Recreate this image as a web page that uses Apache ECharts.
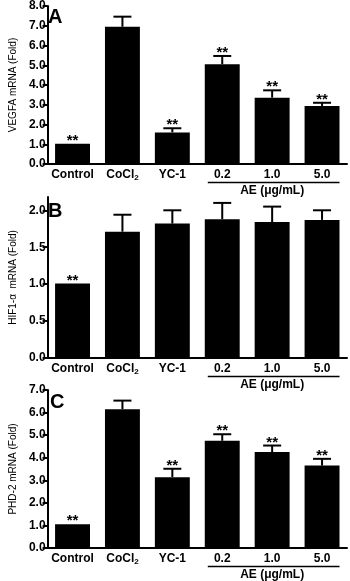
<!DOCTYPE html>
<html>
<head>
<meta charset="utf-8">
<script src="https://cdn.jsdelivr.net/npm/echarts@6/dist/echarts.min.js"></script>
<style>
  html, body { margin: 0; padding: 0; background: #fff; }
  #chart { width: 350px; height: 581px; }
</style>
</head>
<body>
<div id="chart"></div>
<script>
// categories shared by the three panels
var categories = ['Control', 'CoCl2', 'YC-1', '0.2', '1.0', '5.0'];

// A: VEGFA
var vegfaMean = [1.02, 6.95, 1.60, 5.05, 3.36, 2.94];
var vegfaSem = [0, 0.51, 0.21, 0.42, 0.37, 0.16];
var vegfaSig = [1, 0, 1, 1, 1, 1];
var vegfaTicks = [0, 1, 2, 3, 4, 5, 6, 7, 8];

// B: HIF1-a
var hifMean = [1.01, 1.71, 1.82, 1.88, 1.84, 1.87];
var hifSem = [0, 0.23, 0.18, 0.22, 0.21, 0.13];
var hifSig = [1, 0, 0, 0, 0, 0];
var hifTicks = [0, 0.5, 1, 1.5, 2];

// C: PHD-2
var phdMean = [1.05, 6.15, 3.14, 4.75, 4.25, 3.65];
var phdSem = [0, 0.38, 0.37, 0.29, 0.29, 0.30];
var phdSig = [1, 0, 1, 1, 1, 1];
var phdTicks = [0, 1, 2, 3, 4, 5, 6, 7];

var FONT = 'Arial, "Liberation Sans", sans-serif';

var panels = [
  { name: 'VEGFA mRNA (Fold)', letter: 'A', mean: vegfaMean, sem: vegfaSem, sig: vegfaSig, ticks: vegfaTicks, max: 8,
    grid: { left: 38, top: 5, width: 309, height: 159 }, letterDy: 2 },
  { name: 'HIF1-\u03b1  mRNA (Fold)', letter: 'B', mean: hifMean, sem: hifSem, sig: hifSig, ticks: hifTicks, max: 2.18,
    grid: { left: 38, top: 197, width: 309, height: 161 }, letterDy: 4 },
  { name: 'PHD-2 mRNA (Fold)', letter: 'C', mean: phdMean, sem: phdSem, sig: phdSig, ticks: phdTicks, max: 7,
    grid: { left: 40, top: 390, width: 307, height: 158 }, letterDy: 2 }
];

function errRender(params, api) {
  var x = api.value(0), m = api.value(1), s = api.value(2), sig = api.value(3);
  var base = api.coord([x, m]);
  var top = api.coord([x, m + s]);
  var kids = [];
  if (s > 0) {
    kids.push({ type: 'line', shape: { x1: base[0], y1: base[1], x2: top[0], y2: top[1] },
      style: { stroke: '#000', lineWidth: 2 } });
    kids.push({ type: 'line', shape: { x1: top[0] - 9, y1: top[1], x2: top[0] + 9, y2: top[1] },
      style: { stroke: '#000', lineWidth: 2 } });
  }
  if (sig) {
    kids.push({ type: 'text', x: top[0], y: top[1] - 3,
      style: { text: '**', fill: '#000', font: 'bold 15px ' + FONT, align: 'center', verticalAlign: 'middle' } });
  }
  return { type: 'group', children: kids };
}

var option = { animation: false, grid: [], xAxis: [], yAxis: [], series: [] };

panels.forEach(function (p, k) {
  option.grid.push(p.grid);
  option.xAxis.push({
    type: 'category', gridIndex: k, data: categories,
    axisLine: { lineStyle: { color: '#000', width: 2 } },
    axisTick: { show: false },
    axisLabel: {
      interval: 0, color: '#000', fontFamily: FONT, fontWeight: 'bold', fontSize: 12, margin: 4, lineHeight: 14,
      formatter: function (v) { return v === 'CoCl2' ? 'CoCl{s|2}' : v; },
      rich: { s: { fontFamily: FONT, fontWeight: 'bold', fontSize: 8, lineHeight: 8, verticalAlign: 'bottom', color: '#000' } }
    }
  });
  option.yAxis.push({
    type: 'value', gridIndex: k, min: 0, max: p.max,
    name: p.name, nameLocation: 'middle', nameGap: 25,
    nameTextStyle: { color: '#000', fontFamily: FONT, fontSize: 10 },
    axisLine: { show: true, lineStyle: { color: '#000', width: 2 } },
    axisTick: { show: true, length: 5, lineStyle: { color: '#000', width: 2 }, customValues: p.ticks },
    axisLabel: { color: '#000', fontFamily: FONT, fontWeight: 'bold', fontSize: 12, margin: 2,
      customValues: p.ticks, formatter: function (v) { return v.toFixed(1); } },
    splitLine: { show: false }
  });
  option.series.push({
    type: 'bar', xAxisIndex: k, yAxisIndex: k, data: p.mean, barWidth: '70%',
    itemStyle: { color: '#000' }, z: 2
  });
  option.series.push({
    type: 'custom', xAxisIndex: k, yAxisIndex: k, renderItem: errRender, z: 3,
    data: p.mean.map(function (m, i) { return [i, m, p.sem[i], p.sig[i]]; })
  });
});

var chart = echarts.init(document.getElementById('chart'));
chart.setOption(option);

// panel letters and AE bracket labels
var graphics = [];
panels.forEach(function (p, k) {
  var c3 = chart.convertToPixel({ xAxisIndex: k }, 3);
  var c5 = chart.convertToPixel({ xAxisIndex: k }, 5);
  var half = (c5 - c3) / 2 * 0.7 / 2;
  var y0 = chart.convertToPixel({ yAxisIndex: k }, 0);
  var yLine = y0 + 18.5;
  graphics.push({ type: 'text', left: p.grid.left + 10, top: p.grid.top + p.letterDy,
    style: { text: p.letter, fill: '#000', font: 'bold 20px ' + FONT } });
  graphics.push({ type: 'line', shape: { x1: c3 - half + 3, y1: yLine, x2: c5 + half, y2: yLine },
    style: { stroke: '#000', lineWidth: 1.5 } });
  graphics.push({ type: 'text', x: (c3 + c5) / 2, y: yLine + 8,
    style: { text: 'AE (\u03bcg/mL)', fill: '#000', font: 'bold 12px ' + FONT, align: 'center', verticalAlign: 'middle' } });
});
chart.setOption({ graphic: graphics });
</script>
</body>
</html>
